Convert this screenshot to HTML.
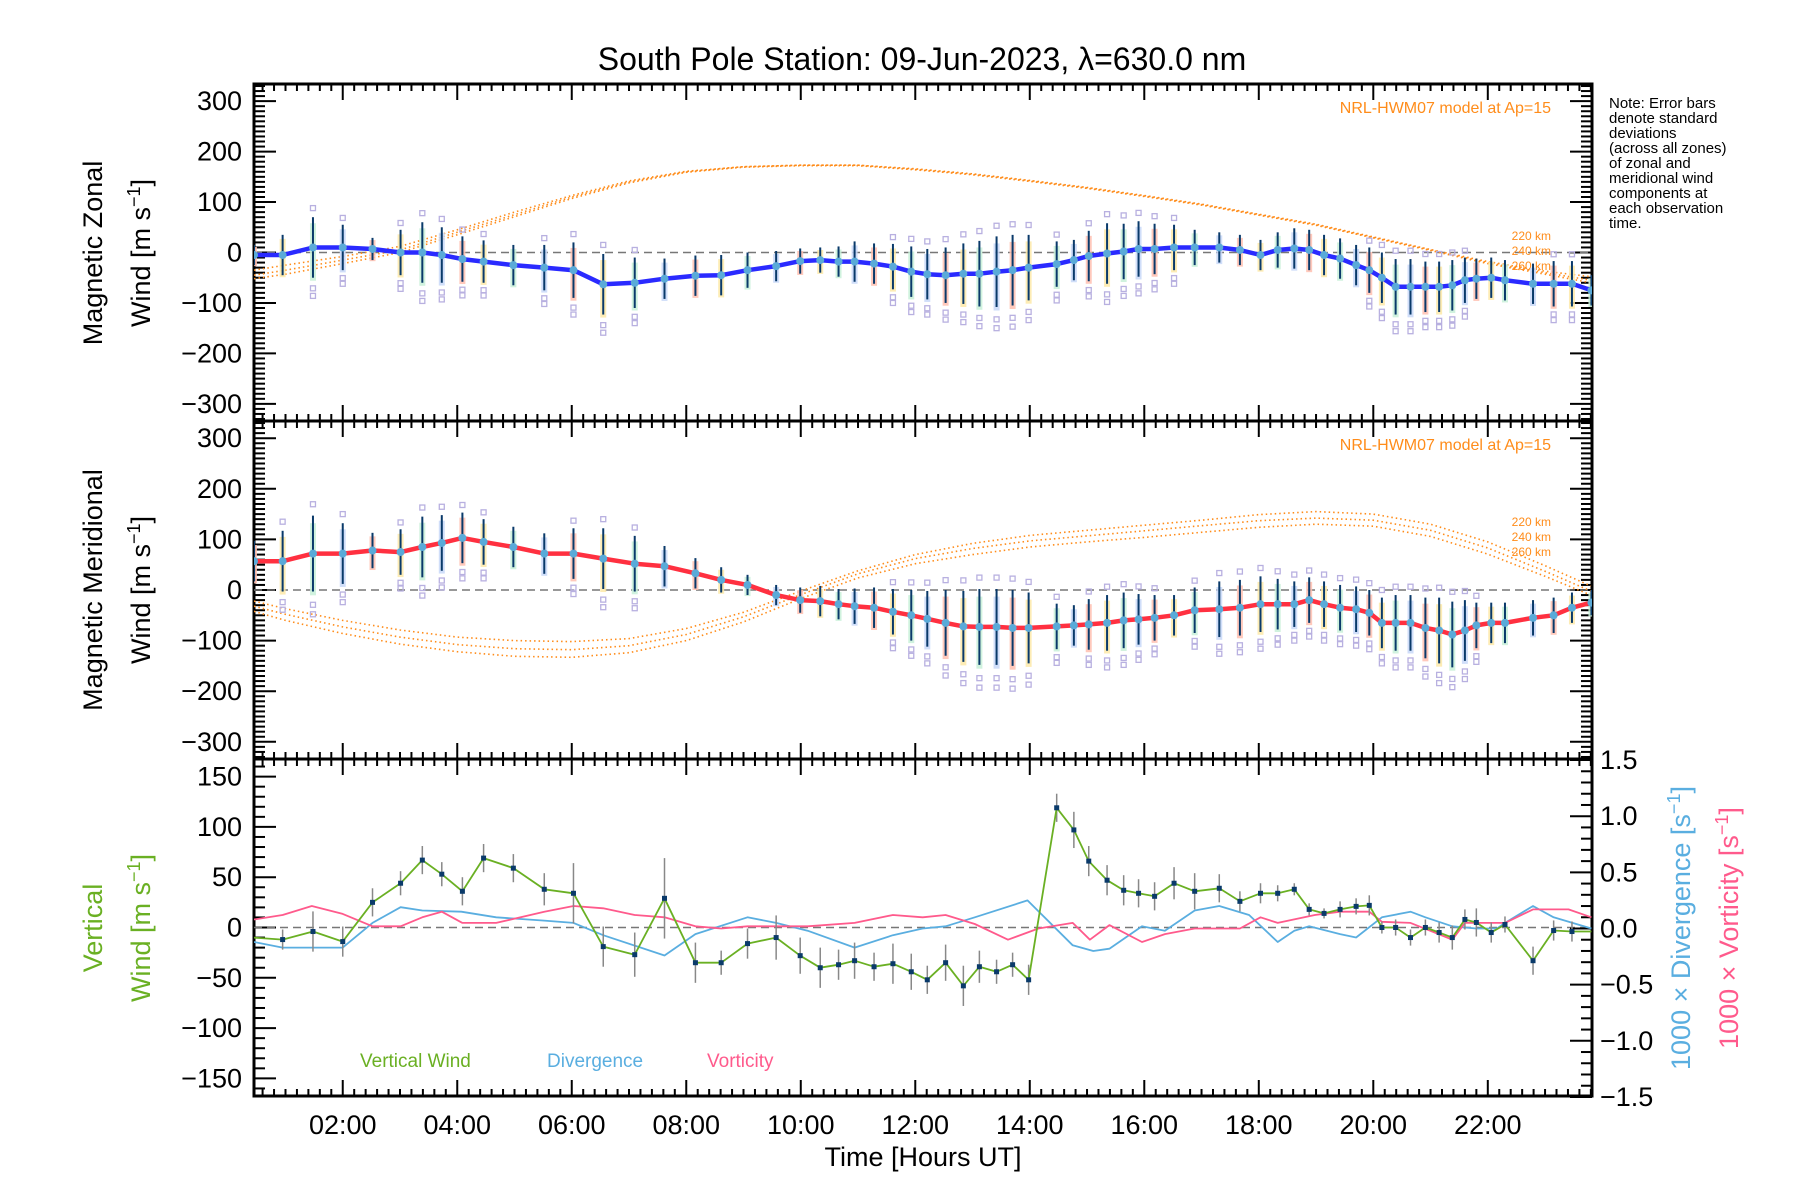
<!DOCTYPE html>
<html><head><meta charset="utf-8">
<style>
html,body{margin:0;padding:0;background:#fff;}
svg{display:block;font-family:"Liberation Sans",sans-serif;}
</style></head>
<body>
<svg id="chart" width="1800" height="1200" viewBox="0 0 1800 1200" xmlns="http://www.w3.org/2000/svg">
<rect width="1800" height="1200" fill="#fff"/>
<text x="922" y="70" font-size="32" text-anchor="middle">South Pole Station: 09-Jun-2023, λ=630.0 nm</text>
<g font-size="15" fill="#000">
<text x="1609" y="108">Note: Error bars</text>
<text x="1609" y="123">denote standard</text>
<text x="1609" y="138">deviations</text>
<text x="1609" y="153">(across all zones)</text>
<text x="1609" y="168">of zonal and</text>
<text x="1609" y="183">meridional wind</text>
<text x="1609" y="198">components at</text>
<text x="1609" y="213">each observation</text>
<text x="1609" y="228">time.</text>
</g>
<g id="plots"></g>
</svg>
<script>
// ---- data ----
const times = [0.45,0.95,1.48,2.0,2.52,3.01,3.39,3.73,4.09,4.46,4.98,5.52,6.03,6.55,7.10,7.62,8.16,8.61,9.07,9.57,9.99,10.34,10.66,10.94,11.28,11.61,11.93,12.21,12.53,12.84,13.12,13.42,13.70,13.98,14.47,14.77,15.03,15.35,15.64,15.90,16.18,16.52,16.88,17.31,17.67,18.03,18.33,18.62,18.88,19.14,19.42,19.70,19.93,20.15,20.39,20.65,20.91,21.15,21.38,21.60,21.80,22.06,22.30,22.79,23.15,23.47,23.81];
const zonal = [-5,-5,10,10,7,0,0,-5,-13,-18,-25,-30,-35,-63,-60,-52,-46,-45,-35,-27,-17,-15,-18,-18,-22,-28,-38,-43,-45,-42,-42,-38,-35,-30,-23,-15,-7,-2,2,7,7,10,10,10,5,-5,5,8,5,-5,-12,-25,-35,-50,-68,-68,-68,-68,-65,-55,-52,-50,-55,-62,-62,-62,-75];
const zonalErr = [20,40,60,45,22,45,60,55,45,42,40,45,55,60,50,40,40,40,35,30,25,25,30,40,40,45,50,50,55,60,65,70,70,65,45,40,50,60,55,55,50,45,35,30,30,30,35,40,40,40,40,40,45,50,55,55,50,50,50,45,40,40,40,40,45,45,30];
const merid = [57,57,72,72,78,75,85,93,103,95,85,72,72,62,52,47,33,20,10,-10,-20,-22,-28,-32,-35,-43,-50,-57,-65,-72,-73,-73,-75,-75,-72,-70,-68,-65,-60,-58,-55,-50,-40,-38,-35,-28,-28,-28,-20,-28,-35,-38,-45,-65,-65,-65,-75,-80,-88,-80,-70,-65,-65,-55,-50,-35,-25];
const meridErr = [40,60,75,60,35,45,60,55,50,45,40,40,50,60,55,40,30,25,20,20,25,30,30,35,40,45,50,55,65,70,75,75,75,70,45,40,50,55,55,50,45,40,45,55,55,55,50,45,45,45,45,45,45,50,55,55,60,65,65,60,45,40,40,35,35,30,25];
const vertical = [-10,-12,-4,-14,25,44,67,53,36,69,59,38,34,-19,-27,29,-35,-35,-16,-10,-28,-40,-37,-33,-39,-36,-44,-52,-35,-58,-39,-44,-37,-52,119,97,66,47,37,34,31,44,36,39,26,34,34,38,18,14,18,21,22,0,0,-10,0,-5,-10,8,5,-5,3,-33,-3,-4,-4];
const vertErr = [0,10,20,15,14,12,14,12,14,14,14,16,30,20,22,40,20,12,15,22,18,20,15,18,14,20,18,14,18,20,16,12,12,15,14,18,15,15,15,14,14,16,18,14,10,10,8,6,6,5,8,8,10,6,8,8,8,10,12,10,14,10,8,14,10,10,0];
const divTimes = [0.45,0.95,2.0,2.52,3.01,3.39,4.07,4.68,5.52,6.03,6.55,7.62,8.16,9.07,9.57,10.12,10.94,11.61,12.13,12.53,13.04,13.96,14.75,15.11,15.39,15.96,16.36,16.88,17.31,17.83,18.33,18.62,18.88,19.42,19.70,20.15,20.65,20.91,21.38,21.80,22.16,22.30,22.79,23.15,23.81];
const divergence = [-0.12,-0.17,-0.17,0.05,0.19,0.16,0.15,0.10,0.07,0.05,-0.06,-0.24,-0.05,0.10,0.05,-0.02,-0.17,-0.06,0.0,0.02,0.10,0.25,-0.15,-0.20,-0.18,0.02,-0.02,0.16,0.20,0.12,-0.12,-0.02,0.02,-0.05,-0.08,0.10,0.15,0.10,0.02,0.0,0.0,0.05,0.20,0.10,0.0];
const vortTimes = [0.45,0.95,1.46,2.0,2.52,3.01,3.39,3.73,4.09,4.68,5.52,6.03,6.55,7.10,7.62,8.16,8.61,9.07,10.12,10.94,11.61,12.13,12.53,13.04,13.62,14.15,14.75,15.05,15.39,15.96,16.36,16.88,17.67,18.03,18.33,18.98,19.42,19.93,20.15,20.65,20.99,21.38,21.60,22.30,22.79,23.41,23.81];
const vorticity = [0.08,0.12,0.20,0.13,0.02,0.02,0.10,0.15,0.05,0.05,0.15,0.20,0.18,0.12,0.10,0.02,0.0,0.02,0.02,0.05,0.12,0.10,0.12,0.04,-0.10,0.0,0.05,-0.10,0.03,-0.12,-0.05,0.0,0.0,0.10,0.05,0.12,0.15,0.15,0.06,0.05,-0.02,-0.10,0.05,0.05,0.17,0.17,0.10];
const modelTimes = [0.45,1,2,3,4,5,6,7,8,9,10,11,12,13,14,15,16,17,18,19,20,21,22,23,23.8];
const zonal220 = [-35,-25,-8,12,45,80,113,142,161,170,173,173,166,156,143,129,113,96,76,56,31,6,-18,-37,-48];
const zonal240 = [-45,-35,-15,5,40,75,110,140,160,170,173,173,165,155,142,128,112,95,75,55,30,5,-20,-40,-55];
const zonal260 = [-52,-43,-22,0,35,71,107,138,159,169,172,172,164,154,141,127,111,94,74,54,29,4,-22,-43,-60];
const merid220 = [-22,-37,-60,-79,-93,-100,-102,-96,-76,-44,-2,38,70,92,108,118,128,138,149,155,150,130,95,48,8];
const merid240 = [-32,-48,-73,-93,-108,-116,-118,-110,-88,-53,-9,32,62,82,97,107,117,127,137,142,138,118,83,37,-2];
const merid260 = [-42,-60,-86,-107,-122,-131,-133,-124,-100,-63,-17,24,52,70,85,95,104,114,124,130,126,106,71,27,-10];
const xTicks = [2,4,6,8,10,12,14,16,18,20,22];
const xTickLabels = ["02:00","04:00","06:00","08:00","10:00","12:00","14:00","16:00","18:00","20:00","22:00"];

// ---- layout ----
const NS = "http://www.w3.org/2000/svg";
const L = 254, R = 1592, X0 = 0.45, X1 = 23.82;
const xs = h => L + (h - X0) / (X1 - X0) * (R - L);
const P = [{top:84,bot:421,min:-334,max:334},{top:421,bot:759,min:-334,max:334},{top:759,bot:1096,min:-167.5,max:167.5}];
const ys = (p, v) => p.bot - (v - p.min) / (p.max - p.min) * (p.bot - p.top);
const RP = {min:-1.5, max:1.5, top:760.5, bot:1097};
const yr = v => 928.5 - v * 112.3;
const root = document.getElementById("plots");
function el(tag, attrs, parent) {
  const e = document.createElementNS(NS, tag);
  for (const k in attrs) e.setAttribute(k, attrs[k]);
  (parent || root).appendChild(e);
  return e;
}
function poly(pts, stroke, w, dash, parent) {
  return el("polyline", {points: pts.map(p => p[0].toFixed(1) + "," + p[1].toFixed(1)).join(" "), fill: "none", stroke: stroke, "stroke-width": w, "stroke-dasharray": dash || "none", "stroke-linejoin": "round"}, parent);
}

// clip
const defs = el("defs", {});
P.forEach((p, i) => {
  const c = el("clipPath", {id: "clip" + i}, defs);
  el("rect", {x: L, y: p.top, width: R - L, height: p.bot - p.top}, c);
});

// axes with ticks
function drawAxes(p, idx, majorStep, minorStep, labels, rightAxis) {
  const g = el("g", {});
  
  
  el("rect", {x: L, y: p.top, width: R - L, height: p.bot - p.top, fill: "none", stroke: "#000", "stroke-width": 3}, g);
  for (let v = Math.ceil(p.min / minorStep) * minorStep; v <= p.max; v += minorStep) {
    const y = ys(p, v);
    const major = Math.abs(v / majorStep - Math.round(v / majorStep)) < 1e-6;
    const len = major ? 22 : 11;
    el("line", {x1: L, x2: L + len, y1: y, y2: y, stroke: "#000", "stroke-width": 2}, g);
    if (!rightAxis) el("line", {x1: R, x2: R - len, y1: y, y2: y, stroke: "#000", "stroke-width": 2}, g);
    if (major && labels) {
      const t = el("text", {x: L - 12, y: y + 9, "font-size": 27, "text-anchor": "end"}, g);
      t.textContent = (v < 0 ? "\u2212" : "") + Math.abs(Math.round(v));
      
      
    }
  }
  // x ticks
  for (let h = 0; h <= 24.001; h += 0.2) {
    if (h < X0 || h > X1) continue;
    const x = xs(h);
    const major = Math.abs(h / 2 - Math.round(h / 2)) < 1e-6;
    const len = major ? 16 : 7;
    el("line", {x1: x, x2: x, y1: p.bot, y2: p.bot - len, stroke: "#000", "stroke-width": 2}, g);
    el("line", {x1: x, x2: x, y1: p.top, y2: p.top + len, stroke: "#000", "stroke-width": 2}, g);
  }
  // zero line
  el("line", {x1: L, x2: R, y1: ys(p, 0), y2: ys(p, 0), stroke: "#777", "stroke-width": 1.5, "stroke-dasharray": "8,5"}, g);
  return g;
}
drawAxes(P[0], 1, 100, 10, true, false);
drawAxes(P[1], 2, 100, 10, true, false);
drawAxes(P[2], 3, 50, 10, true, true);
// right axis
const ra = el("g", {});


for (let i = -15; i <= 15; i++) {
  const v = i / 10, y = yr(v);
  const major = i % 5 === 0;
  el("line", {x1: R, x2: R - (major ? 22 : 11), y1: y, y2: y, stroke: "#000", "stroke-width": 2}, ra);
  if (major) {
    const t = el("text", {x: R + 8, y: y + 9, "font-size": 27}, ra);
    t.textContent = (v < 0 ? "\u2212" : "") + Math.abs(v).toFixed(1);
    
    
  }
}
// x labels
xTicks.forEach((h, i) => {
  const t = el("text", {x: xs(h), y: 1134, "font-size": 27, "text-anchor": "middle"});
  t.textContent = xTickLabels[i];
  
  
});
const xt = el("text", {x: 923, y: 1166, "font-size": 27, "text-anchor": "middle"});
xt.textContent = "Time [Hours UT]";



// y titles
function vtext(x, y, txt, color, name, size) {
  const t = el("text", {x: 0, y: 0, "font-size": size || 27, fill: color, "text-anchor": "middle", transform: `translate(${x},${y}) rotate(-90)`});
  t.innerHTML = txt;
  
  
}
const sup = '<tspan dy="-10" font-size="18">\u22121</tspan><tspan dy="10">]</tspan>';
vtext(102, 253, "Magnetic Zonal", "#000", "y-title-zonal-1");
vtext(150, 253, "Wind [m s" + sup, "#000", "y-title-zonal-2");
vtext(102, 590, "Magnetic Meridional", "#000", "y-title-merid-1");
vtext(150, 590, "Wind [m s" + sup, "#000", "y-title-merid-2");
vtext(102, 928, "Vertical", "#6ab023", "y-title-vert-1");
vtext(150, 928, "Wind [m s" + sup, "#6ab023", "y-title-vert-2");
vtext(1690, 928, "1000 \u00d7 Divergence [s" + sup, "#5aaee0", "y-title-divergence");
vtext(1738, 928, "1000 \u00d7 Vorticity [s" + sup, "#ff5a8c", "y-title-vorticity");

// model labels
[[0, 113, 236], [1, 450, 522]].forEach(([i, y1, y2]) => {
  const t = el("text", {x: 1551, y: y1, "font-size": 16, fill: "#ff8c1a", "text-anchor": "end"});
  t.textContent = "NRL-HWM07 model at Ap=15";
  
  
  ["220 km", "240 km", "260 km"].forEach((s, k) => {
    const u = el("text", {x: 1551, y: y2 + 15 * k + 4, "font-size": 12, fill: "#ff8c1a", "text-anchor": "end"});
    u.textContent = s;
    
    
  });
});

// wind panels
function windPanel(p, idx, vals, errs, models, color, name) {
  const g = el("g", {"clip-path": `url(#clip${idx})`});
  
  
  models.forEach(m => {
    const ml = poly(modelTimes.map((t, i) => [xs(t), ys(p, m[i])]), "#ff8c1a", 1.6, "1.5,3", g);
    
    
  });
  const pastel = ["#ffc0b0", "#fde9a8", "#c8f0d8", "#c8d8f8"];
  times.forEach((t, i) => {
    const x = xs(t), e = errs[i], v = vals[i];
    const bar = el("rect", {x: x - 3, y: ys(p, v + e * 0.8), width: 6, height: ys(p, v - e * 1.1) - ys(p, v + e * 0.8), fill: pastel[i % 4], opacity: 0.85}, g);
    
    
    const ln = el("line", {x1: x, x2: x, y1: ys(p, v + e), y2: ys(p, v - e), stroke: "#0a3a6a", "stroke-width": 2}, g);
    
    
    [1.3, -1.35, -1.6].forEach(f => {
      if (e > 40) el("rect", {x: x - 2.5, y: ys(p, v + e * f) - 2.5, width: 5, height: 5, fill: "none", stroke: "#b8b0e0", "stroke-width": 1.3}, g);
    });
  });
  const line = poly(times.map((t, i) => [xs(t), ys(p, vals[i])]), color, 4.5, null, g);
  
  
  times.forEach((t, i) => {
    const d = el("circle", {cx: xs(t), cy: ys(p, vals[i]), r: 4, fill: "#5aaad8"}, g);
    
    
  });
}
windPanel(P[0], 0, zonal, zonalErr, [zonal220, zonal240, zonal260], "#2a2aff", "zonal");
windPanel(P[1], 1, merid, meridErr, [merid220, merid240, merid260], "#ff3040", "meridional");

// bottom panel
const g3 = el("g", {"clip-path": "url(#clip2)"});


const dl = poly(divTimes.map((t, i) => [xs(t), yr(divergence[i])]), "#5aaee0", 1.8, null, g3);


const vl = poly(vortTimes.map((t, i) => [xs(t), yr(vorticity[i])]), "#ff5a8c", 1.8, null, g3);


times.forEach((t, i) => {
  if (vertErr[i] > 0) {
    const e = el("line", {x1: xs(t), x2: xs(t), y1: ys(P[2], vertical[i] + vertErr[i]), y2: ys(P[2], vertical[i] - vertErr[i]), stroke: "#888", "stroke-width": 1.5}, g3);
    
    
  }
});
const wl = poly(times.map((t, i) => [xs(t), ys(P[2], vertical[i])]), "#6ab023", 1.8, null, g3);


times.forEach((t, i) => {
  if (i === 0 || i === times.length - 1) return;
  const m = el("rect", {x: xs(t) - 2.5, y: ys(P[2], vertical[i]) - 2.5, width: 5, height: 5, fill: "#0a3a6a"}, g3);
  
  
});
[["Vertical Wind", 360, "#6ab023"], ["Divergence", 547, "#5aaee0"], ["Vorticity", 707, "#ff5a8c"]].forEach(([s, x, c]) => {
  const t = el("text", {x: x, y: 1067, "font-size": 19, fill: c});
  t.textContent = s;
  
  
});
</script>
</body></html>
